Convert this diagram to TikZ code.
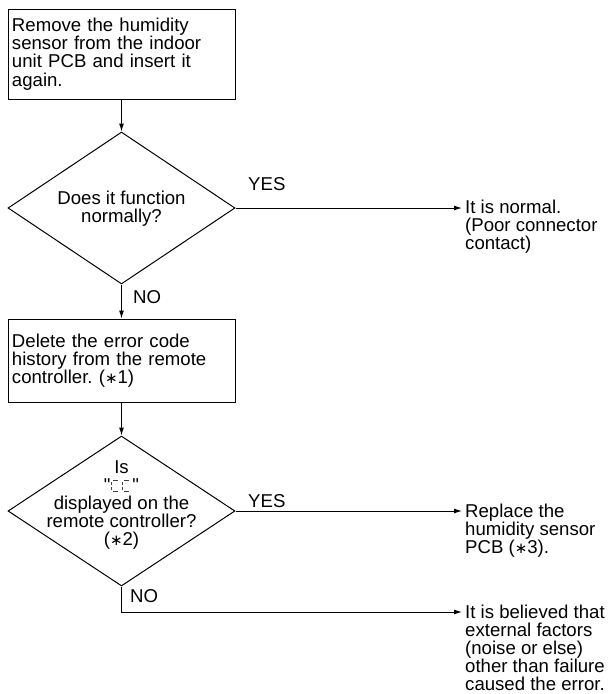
\documentclass[tikz,border=0pt]{standalone}
\usepackage{fontspec}
\setmainfont{Liberation Sans}
\newfontfamily\plainquote{Liberation Sans}
\newfontfamily\symbfont{DejaVu Sans}
\newcommand{\astk}{{\symbfont\fontsize{15}{15}\selectfont ∗}}
\usetikzlibrary{shapes.geometric,arrows.meta}
\frenchspacing
\begin{document}
\begin{tikzpicture}[x=1pt,y=-1pt,
  every node/.style={font=\fontsize{18.6}{18.2}\selectfont, text=black},
  box/.style={draw, line width=1pt, rectangle, minimum width=227pt, text width=219pt, inner xsep=4pt, align=left},
  dia/.style={draw, line width=1pt, diamond, minimum width=227pt, minimum height=152pt, inner sep=0pt},
  conn/.style={line width=1pt, -{Latex[length=8pt,width=5pt]}},
  lbl/.style={inner sep=0pt, anchor=base west},
  res/.style={inner xsep=3pt, inner ysep=0pt, anchor=north west, align=left},
  cseg/.style={line width=1pt, black!75}
]
\useasboundingbox (0,0) rectangle (608,694);

% process boxes
\node[box, minimum height=90pt] (b1) at (121.5,54) {Remove the humidity\\sensor from the indoor\\unit PCB and insert it\\again.};
\node[box, minimum height=83pt] (b2) at (121.5,360.5) {Delete the error code\\history from the remote\\controller. (\astk1)};

% decisions
\node[dia] (d1) at (121.5,208) {};
\node[align=center] (t1) at (121.5,209) {Does it function\\normally?};
\node[dia, minimum height=150pt] (d2) at (121.5,511) {};
\node[align=center] (t2) at (121.5,505) {Is\\{\plainquote"}\hspace{22pt}{\plainquote"}\\displayed on the\\remote controller?\\(\astk2)};

% seven-segment style "CC"
\foreach \xo in {111.5,122.5}{
  \draw[cseg] (\xo+1.6,480.5) -- (\xo+6.5,480.5);
  \draw[cseg] (\xo,482) -- (\xo,484.8);
  \draw[cseg] (\xo,487) -- (\xo,489.8);
  \draw[cseg] (\xo+1.6,491) -- (\xo+6.5,491);
}

% results
\node[res] (r1) at (462,199.4) {It is normal.\\(Poor connector\\contact)};
\node[res] (r2) at (462,503.4) {Replace the\\humidity sensor\\PCB (\astk3).};
\node[res] (r3) at (462,604.4) {It is believed that\\external factors\\(noise or else)\\other than failure\\caused the error.};

% labels
\node[lbl] (y1) at (248,190) {YES};
\node[lbl] (n1) at (133,303) {NO};
\node[lbl] (y2) at (248,507) {YES};
\node[lbl] (n2) at (130,602) {NO};

% connectors
\draw[conn] (b1) -- (d1);
\draw[conn] (d1) -- (b2);
\draw[conn] (b2) -- (d2);
\draw[conn] (d1.east) -- (d1.east -| r1.west);
\draw[conn] (d2.east) -- (d2.east -| r2.west);
\draw[conn] (d2.south) |- ([yshift=-7.6pt]r3.north west);
\end{tikzpicture}
\end{document}
